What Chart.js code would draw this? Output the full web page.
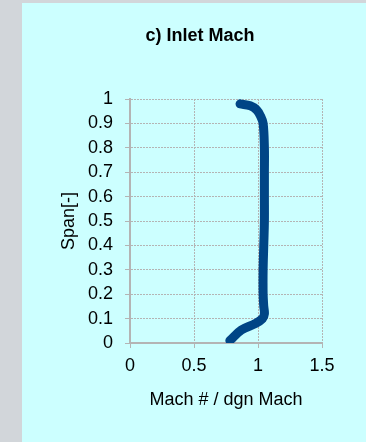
<!DOCTYPE html>
<html>
<head>
<meta charset="utf-8">
<script src="https://cdn.jsdelivr.net/npm/chart.js@4.4.1/dist/chart.umd.min.js"></script>
<style>
  html, body { margin: 0; padding: 0; }
  body { width: 366px; height: 442px; background: #d2d6da; position: relative; overflow: hidden; }
  #panel { position: absolute; left: 22px; top: 3px; width: 344px; height: 439px; background: #ccffff; }
</style>
</head>
<body>
<div id="panel"><canvas id="machChart"></canvas></div>
<script>
// Inlet Mach ratio profile along the span
const spanValues = [0.01, 0.053, 0.08, 0.1, 0.12, 0.15, 0.2, 0.3, 0.4, 0.5, 0.6, 0.7, 0.8, 0.9, 0.93, 0.955, 0.972, 0.98];
const machValues = [0.78, 0.87, 0.98, 1.035, 1.05, 1.045, 1.04, 1.04, 1.045, 1.05, 1.05, 1.05, 1.05, 1.04, 1.02, 0.99, 0.94, 0.86];

// Tick labels
const machTicks = [0, 0.5, 1, 1.5];
const spanTicks = [0, 0.1, 0.2, 0.3, 0.4, 0.5, 0.6, 0.7, 0.8, 0.9, 1];

const labelFont = { family: "'Liberation Sans', Arial, sans-serif", size: 18 };
const gridColor = '#b4b4b4';

const points = spanValues.map((s, i) => ({ x: machValues[i], y: s }));

new Chart(document.getElementById('machChart'), {
    type: 'scatter',
    data: {
        datasets: [{
            label: 'Inlet Mach',
            data: points,
            showLine: true,
            borderColor: '#004586',
            backgroundColor: '#004586',
            borderWidth: 9,
            borderCapStyle: 'round',
            borderJoinStyle: 'round',
            tension: 0.35,
            pointRadius: 0,
            clip: 0
        }]
    },
    options: {
        responsive: true,
        maintainAspectRatio: false,
        animation: false,
        layout: { padding: { left: 12, right: 0, top: 0, bottom: 0 } },
        plugins: {
            legend: { display: false },
            tooltip: { enabled: false },
            title: {
                display: true,
                text: 'c) Inlet Mach',
                color: '#000000',
                font: { family: "'Liberation Sans', Arial, sans-serif", size: 18, weight: 'bold' },
                padding: { top: 22.2, bottom: 52.2 }
            }
        },
        scales: {
            x: {
                type: 'linear',
                min: 0,
                max: 1.5,
                afterBuildTicks: (scale) => { scale.ticks = machTicks.map(v => ({ value: v })); },
                afterFit: (scale) => { scale.height = 99; },
                ticks: {
                    color: '#000000',
                    font: labelFont,
                    padding: 7.7,
                    maxRotation: 0,
                    autoSkip: false,
                    callback: (v) => String(v)
                },
                grid: { color: gridColor, tickLength: 5, tickColor: gridColor },
                border: { color: gridColor, width: 2, dash: [2, 1] },
                title: {
                    display: true,
                    text: 'Mach # / dgn Mach',
                    color: '#000000',
                    font: labelFont,
                    padding: { top: 0, bottom: 30.8 }
                }
            },
            y: {
                type: 'linear',
                min: 0,
                max: 1,
                afterBuildTicks: (scale) => { scale.ticks = spanTicks.map(v => ({ value: v })); },
                afterFit: (scale) => { scale.width = 96; },
                ticks: {
                    color: '#000000',
                    font: labelFont,
                    padding: 12,
                    autoSkip: false,
                    callback: (v) => String(v)
                },
                grid: { color: gridColor, tickLength: 5, tickColor: gridColor },
                border: { color: gridColor, width: 2, dash: [2, 1] },
                title: {
                    display: true,
                    text: 'Span[-]',
                    color: '#000000',
                    font: labelFont,
                    padding: { top: 24.2, bottom: 0 }
                }
            },
            // empty strip on the right of the plot
            rightGap: {
                type: 'linear',
                position: 'right',
                display: true,
                afterFit: (scale) => { scale.width = 44; },
                ticks: { display: false },
                grid: { display: false, drawTicks: false },
                border: { display: false }
            }
        }
    }
});
</script>
</body>
</html>
